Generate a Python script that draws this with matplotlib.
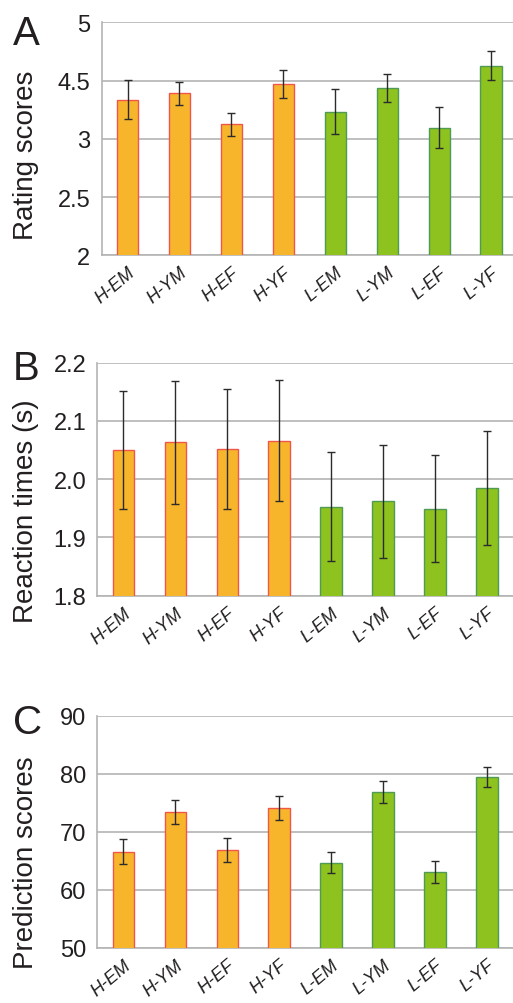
import numpy as np
import matplotlib.pyplot as plt

plt.rcParams['font.family'] = ['Liberation Sans', 'DejaVu Sans']

groups = ['H-EM', 'H-YM', 'H-EF', 'H-YF', 'L-EM', 'L-YM', 'L-EF', 'L-YF']

# A: rating scores (plotted on the axis as drawn, tick labels as printed)
rating = [3.334, 3.389, 3.123, 3.471, 3.234, 3.440, 3.097, 3.629]
rating_err = [0.167, 0.095, 0.095, 0.120, 0.190, 0.120, 0.174, 0.128]
rating_ticks = [2, 2.5, 3, 3.5, 4]
rating_ticklabels = ['2', '2.5', '3', '4.5', '5']

# B: reaction times (s)
rt = [2.050, 2.063, 2.051, 2.066, 1.953, 1.962, 1.949, 1.985]
rt_err = [0.102, 0.106, 0.103, 0.104, 0.093, 0.097, 0.092, 0.098]
rt_ticks = [1.8, 1.9, 2.0, 2.1, 2.2]
rt_ticklabels = ['1.8', '1.9', '2.0', '2.1', '2.2']

# C: prediction scores
pred = [66.6, 73.4, 66.9, 74.1, 64.7, 76.9, 63.1, 79.4]
pred_err = [2.1, 2.1, 2.05, 2.0, 1.8, 1.9, 1.85, 1.7]
pred_ticks = [50, 60, 70, 80, 90]
pred_ticklabels = ['50', '60', '70', '80', '90']

fills = ['#F7B52B'] * 4 + ['#8DC21F'] * 4
edges = ['#F0574A'] * 4 + ['#4F9A55'] * 4

fig = plt.figure(figsize=(5.13, 10.04), dpi=100)

panels = [
    ('A', 'Rating scores', rating, rating_err, rating_ticks, rating_ticklabels,
     [0.198, 0.7447, 0.81, 0.2321], 45, 155),
    ('B', 'Reaction times (s)', rt, rt_err, rt_ticks, rt_ticklabels,
     [0.1897, 0.4057, 0.81, 0.2321], 380, 511),
    ('C', 'Prediction scores', pred, pred_err, pred_ticks, pred_ticklabels,
     [0.1897, 0.0548, 0.81, 0.2314], 734, 863),
]

x = np.arange(len(groups))
for letter, ylab, vals, errs, ticks, tlabels, rect, let_y, lab_y in panels:
    ax = fig.add_axes(rect)
    ax.bar(x, vals, width=0.41, color=fills, edgecolor=edges, linewidth=1.0, zorder=3)
    ax.errorbar(x, vals, yerr=errs, fmt='none', ecolor='#2b2b2b', elinewidth=1.0,
                capsize=3, capthick=1.0, zorder=4)
    ax.set_xlim(-0.5, 7.5)
    ax.set_ylim(ticks[0], ticks[-1])
    ax.set_yticks(ticks)
    ax.set_yticklabels(tlabels, fontsize=17, color='#231f20')
    ax.set_xticks(x)
    ax.set_xticklabels(groups, fontsize=13, style='italic', rotation=40,
                       ha='right', rotation_mode='anchor', color='#231f20')
    ax.tick_params(axis='both', length=0)
    ax.tick_params(axis='y', pad=8)
    ax.tick_params(axis='x', pad=6)
    ax.yaxis.grid(True, color='#b4b4b4', linewidth=1.2, zorder=0)
    ax.set_axisbelow(True)
    for s in ['top', 'right']:
        ax.spines[s].set_visible(False)
    for s in ['left', 'bottom']:
        ax.spines[s].set_color('#b4b4b4')
        ax.spines[s].set_linewidth(1.2)
    fig.text(13 / 513, 1 - let_y / 1004, letter, fontsize=29, color='#231f20',
             va='baseline', ha='left')
    fig.text(26 / 513, 1 - lab_y / 1004, ylab, fontsize=20, color='#231f20',
             rotation=90, va='center', ha='center')

fig.savefig('out.png', dpi=100)
